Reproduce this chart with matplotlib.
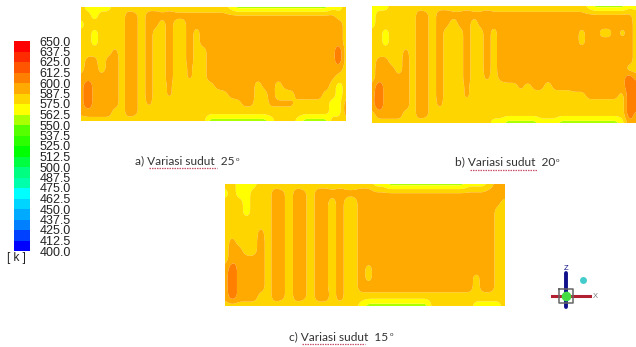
import numpy as np
import matplotlib
matplotlib.use("Agg")
import matplotlib.pyplot as plt

W, H = 636, 347
levels = [400 + 12.5 * i for i in range(21)]
level_labels = [f"{v:.1f}" for v in levels]
band_colors = ["#0000ff", "#0040ff", "#0080ff", "#00aaff", "#00d5ff", "#00ffff", "#00ffaa",
               "#00ff80", "#00ff40", "#00ff00", "#2bff00", "#55ff00", "#aaff00", "#ffff00",
               "#ffd500", "#ffaa00", "#ff8000", "#ff5500", "#ff2b00", "#ff0000"]
# temperature (K) estimated in the picture; p = just inside the orange band (narrow features)
band_temps = {"G": 556, "Y": 569, "L": 581, "p": 591, "O": 595, "D": 610}

# each string: one column of the field, top to bottom, left to right across the panel
panel_a = ["LLYLLLLLpOOOpL", "YLLLLLpOODDDOL", "YYLYYLpOOOOOOL", "YLLLLLLLpOOOOL", "YLLLLLppOOOOOL",
           "LpLLLpOOOOOOLL", "LLLLLLLLLLLLLL", "LOOOOOOOOOOOOL", "LppppppppppppL", "LLLLLLLLLLLLLL",
           "LOOOOOOOOOOpLL", "LOpLLLLLLLLLLL", "LpLLLLLLLLLLLL", "LOOOOOOOOppLLL", "LpLLLLLLLLLLLL",
           "LpLLLLLLLLLLLL", "LpOOOOOppLLLLL", "LppLLLLLLLLLLL", "LpOOOLLLLLLLLL", "LpOOOOOOOLLLLG",
           "LpOOOOOOOpLLLG", "LpOOOOOOOOLLLG", "YpOOOOOOOOpLLG", "GpOOOOOOOOOLLG", "GpOOOOOOOOOpLG",
           "GpOOOOOOOOOpLG", "GpOOOOOOpLLLLG", "GpOOOOOOOpLLLG", "GpOOOOOOOOOpLY", "GpOOOOOOpLLpLL",
           "GpOOOOOOOpLpLL", "GpOOOOOOOOLpLL", "GpOOOOOOOOOLLY", "GpOOOOOOOOOLLG", "GpOOOOOOOOOLLG",
           "GpOOOOOOOOOLLG", "GpOOOOOOOOLLLG", "YpOOOOOOpLLYYL", "YLOOODDOLYYYYL", "LLLLLLLLLLLOOL"]
panel_b = ["YYYLLLLLLpOOLL", "YLLLLLpOODDDOL", "YLLYYLpOOOOOOL", "LLLLLLLpOOOOOL", "LLLLLLLLpOOOOL",
           "LpLLLpOOOOOOLL", "LLLLLLLLLLLLLL", "LOOOOOOOOOOOOL", "LppppppppppppL", "LLLLLLLLLLLLLL",
           "LOOOOOOOOOOpLL", "LOpLLLLLLLLLLL", "LpLLLLLLLLLLLL", "LppLLLLLLLLLLL", "LOOOOOOOOppLLL",
           "LpLLLLLLLLLLLL", "LppLLLLLLLLLLL", "LOOOOOOOpLLLLL", "LppLLLLLLLLLLY", "LpOOOOOOpLLLLY",
           "LpOOOOOOOLLLLG", "LpOOOOOOOLLLLG", "LpOOOOOOOpLLLG", "LpOOOOOOOLLLLG", "LpOOOOOOOpLLLG",
           "LpOOOOOOOpLLLY", "LpOOOOOOpLLLLY", "LpOOOOOOOpLLLY", "LpOOOOOOOpLLLG", "LpOOOOOOOpLLLG",
           "LpOOOOOOOOLLLG", "LpOLLOOOOOLLLG", "YpOOOOOOOOpLLG", "GpOOOOOOOOpLLG", "GpOLOOOOOOpLLG",
           "GpOLOOOOOOpLLG", "GpOOOOOOOOpLLG", "GpOLOOOOOOLLLY", "YpOOOOOLDDDDDO", "YLLLLLLLODDDOO"]
panel_c = ["LYLLLLLLLpOOpL", "LLLLLLpOODDDDL", "YYLLLLLpOOOOOL", "YYYYLLLLpOOOOL", "YLLLLLLLpOOOOL",
           "LpLLLpOOOOOOLL", "LLLLLLLLLLLLLL", "LOOOOOOOOOOOOL", "LppppppppppppL", "LLLLLLLLLLLLLL",
           "LOOOOOOOOOOOOL", "LppppppppppppL", "LLLLLLLLLLLLLL", "LOOOOOOOOOOOOL", "LOppppppppppOL",
           "LpLLLLLLLLLLLL", "LOOOOOOOOOOOOL", "LpLLLLLLLLLLLL", "LpLLLLLLLLLLLL", "LOOOOOOOOOOOLY",
           "LOOOOOOOOLLOLG", "YpOOOOOOOOOOLG", "YpOOOOOOOOOOLG", "GpOOOOOOOOOOLG", "GpOOOOOOOOOOLG",
           "GpOOOOOOOOOOLG", "GpOOOOOOOOOOLG", "GpOOOOOOOOOOLG", "GpOOOOOOOOOOLG", "GpOOOOOOOOOOLL",
           "GpOOOOOOOOOOLL", "GpOOOOOOOOOOLL", "GpOOOOOOOOOOLL", "GpOOOOOOOOOOLL", "YpOOOOOOOOOOLL",
           "YpOOOOOOOOLLLY", "YpOOOOOOOOOOLY", "LOOOOOOOOOOOLY", "OOpLLLLLLLLLLY", "OOLLLLLLLLLLLL"]
captions = [("a) ", "Variasi sudut", "  25"), ("b) ", "Variasi sudut", "  20"), ("c) ", "Variasi sudut", "  15")]

plt.rcParams["font.family"] = ["Liberation Sans", "DejaVu Sans"]
fig = plt.figure(figsize=(W / 100, H / 100), dpi=100, facecolor="white")


def box(x0, y0, x1, y1):
    return [x0 / W, 1 - y1 / H, (x1 - x0) / W, (y1 - y0) / H]


def field(cols):
    z = np.array([[band_temps[c] for c in col] for col in cols], float).T
    ny, nx = z.shape
    xs, ys = np.arange(nx), np.arange(ny)
    xf, yf = np.linspace(0, nx - 1, (nx - 1) * 6 + 1), np.linspace(0, ny - 1, (ny - 1) * 6 + 1)
    fine = np.array([np.interp(xf, xs, r) for r in z])
    fine = np.array([np.interp(yf, ys, c) for c in fine.T]).T
    k = np.ones(5) / 5
    fine = np.array([np.convolve(np.pad(r, 2, mode="edge"), k, "valid") for r in fine])
    fine = np.array([np.convolve(np.pad(c, 2, mode="edge"), k, "valid") for c in fine.T]).T
    return xf, yf, fine


for cols, rect in [(panel_a, (81, 7, 346, 121)), (panel_b, (372, 6, 636, 123)), (panel_c, (225, 184, 505, 306))]:
    ax = fig.add_axes(box(*rect))
    xf, yf, zf = field(cols)
    ax.contourf(xf, yf, zf, levels=levels, colors=band_colors, antialiased=True)
    ax.invert_yaxis()
    ax.axis("off")

cax = fig.add_axes(box(14, 41, 30, 251))
cax.pcolormesh([0, 1], levels, np.array(levels[:-1]).reshape(-1, 1), cmap=matplotlib.colors.ListedColormap(band_colors),
               norm=matplotlib.colors.BoundaryNorm(levels, 20))
cax.set_xticks([])
cax.yaxis.tick_right()
cax.set_yticks(levels)
cax.set_yticklabels(level_labels, fontsize=9, color="#222222")
cax.tick_params(axis="y", length=0, pad=7)
cax.set_ylim(400, 650)
for s in cax.spines.values():
    s.set_visible(False)

ov = fig.add_axes([0, 0, 1, 1], facecolor="none")
ov.set_xlim(0, W)
ov.set_ylim(H, 0)
ov.axis("off")
ov.text(16, 258, "[ k ]", fontsize=8.5, color="#222222", ha="center", va="center")

cap_pos = [(135, 161, 149, 217, 168, 237), (455, 162, 470, 537, 170, 557), (289, 337, 302, 365, 344, 391)]
for (a, b, c), (tx, ty, ux0, ux1, uy, dx) in zip(captions, cap_pos):
    ov.text(tx, ty, a + b + c, fontsize=8.6, family="Lato", color="#333333", ha="left", va="center")
    ov.text(dx, ty - 2, "o", fontsize=4.5, family="Lato", color="#333333", ha="center", va="center")
    ov.plot([ux0, ux1], [uy, uy], color="#c8506a", lw=0.9, ls=(0, (1.2, 0.8)))

# orientation triad
ov.plot([566, 566], [307, 273], color="#10108a", lw=2.8, solid_capstyle="round")
ov.plot([552, 590], [296, 296], color="#b02030", lw=2.2)
ov.plot([559, 573, 573, 559, 559], [289, 289, 303, 303, 289], color="#666666", lw=1.1)
ov.plot([566], [296], "o", color="#44dd44", ms=7, mec="none")
ov.plot([583], [280], "o", color="#44cccc", ms=5, mec="none")
ov.text(566, 269, "Z", fontsize=5.5, color="#10108a", ha="center", va="center")
ov.text(595, 296, "X", fontsize=5.5, color="#777777", ha="center", va="center")

fig.savefig("out.png", dpi=100)
